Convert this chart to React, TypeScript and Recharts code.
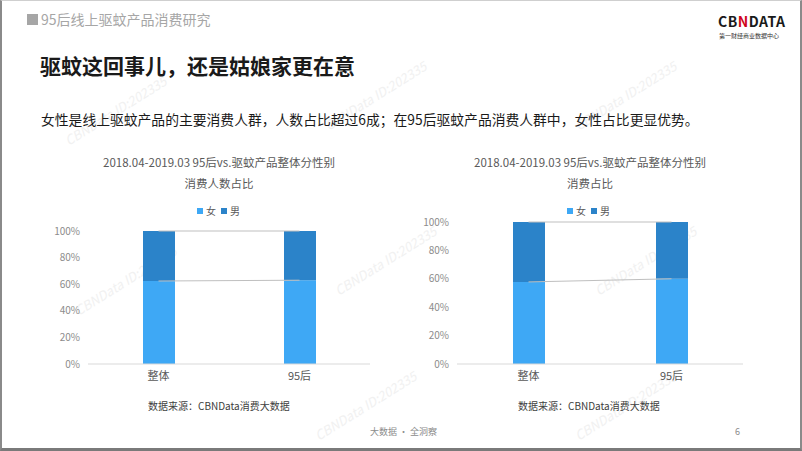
import { ComposedChart, Bar, Line, XAxis, YAxis } from "recharts";

// 分性别消费人数占比 / 消费占比 (%)
const categories = ["整体", "95后"];
const peopleFemale = [62.4, 63.0];
const peopleMale = [37.6, 37.0];
const spendFemale = [57.8, 60.0];
const spendMale = [42.2, 40.0];
const yTicks = [0, 20, 40, 60, 80, 100];

const FEMALE = "#3ea8f5";
const MALE = "#2b83c9";
const FONT = "'Microsoft YaHei', 'Noto Sans CJK SC', sans-serif";

const build = (female: number[], male: number[]) =>
  categories.map((name, i) => ({
    name,
    female: female[i],
    male: male[i],
    femaleTop: female[i],
    allTop: female[i] + male[i],
  }));

const peopleData = build(peopleFemale, peopleMale);
const spendData = build(spendFemale, spendMale);

const tick = { fill: "#8c8c8c", fontSize: 10, fontFamily: FONT };

function StackChart({ data, width, height, top, right, yWidth }: any) {
  return (
    <ComposedChart
      width={width}
      height={height}
      data={data}
      margin={{ top, right, bottom: 7, left: 0 }}
    >
      <XAxis
        dataKey="name"
        tick={{ ...tick, fill: "#595959", fontSize: 11 }}
        tickLine={false}
        axisLine={{ stroke: "#d9d9d9" }}
        height={20}
      />
      <YAxis
        domain={[0, 100]}
        ticks={yTicks}
        tickFormatter={(v: number) => `${v}%`}
        tick={tick}
        tickLine={false}
        axisLine={false}
        width={yWidth}
      />
      <Line dataKey="femaleTop" stroke="#bfbfbf" strokeWidth={1} dot={false} activeDot={false} isAnimationActive={false} />
      <Line dataKey="allTop" stroke="#bfbfbf" strokeWidth={1} dot={false} activeDot={false} isAnimationActive={false} />
      <Bar dataKey="female" stackId="a" fill={FEMALE} barSize={32} isAnimationActive={false} />
      <Bar dataKey="male" stackId="a" fill={MALE} barSize={32} isAnimationActive={false} />
    </ComposedChart>
  );
}

function LegendBox({ cx, y }: { cx: number; y: number }) {
  const item = (c: string, t: string) => (
    <span style={{ display: "inline-flex", alignItems: "center", marginRight: 5 }}>
      <span style={{ width: 6, height: 6, background: c, display: "inline-block", marginRight: 3 }} />
      {t}
    </span>
  );
  return (
    <div
      style={{
        position: "absolute",
        left: cx - 40,
        top: y,
        width: 80,
        textAlign: "center",
        fontSize: 10,
        color: "#595959",
        lineHeight: "12px",
      }}
    >
      {item(FEMALE, "女")}
      {item(MALE, "男")}
    </div>
  );
}

const abs = (left: number, top: number, extra: any = {}) => ({
  position: "absolute" as const,
  left,
  top,
  whiteSpace: "nowrap" as const,
  ...extra,
});

const marks = [
  [110, 110], [370, 95], [620, 95],
  [120, 280], [380, 260], [640, 260],
  [360, 405], [620, 405],
];

export default function App() {
  return (
    <div
      style={{
        position: "absolute",
        left: 0,
        top: 0,
        width: 802,
        height: 451,
        boxSizing: "border-box",
        borderLeft: "2px solid #8a8a8a",
        borderRight: "2px solid #8a8a8a",
        borderBottom: "3px solid #7a7a7a",
        borderTop: "1px solid #cfcfcf",
        background: "#fff",
        fontFamily: FONT,
        overflow: "hidden",
      }}
    >
      {marks.map(([x, y], i) => (
        <div
          key={i}
          style={abs(x - 55, y - 10, {
            transform: "rotate(-32deg)",
            color: "#f1f1f1",
            fontSize: 13,
            fontStyle: "italic",
          })}
        >
          CBNData ID:202335
        </div>
      ))}

      <div style={abs(25, 13, { width: 11, height: 11, background: "#a6a6a6" })} />
      <div style={abs(39, 9, { fontSize: 14, color: "#a6a6a6", lineHeight: "18px" })}>
        95后线上驱蚊产品消费研究
      </div>

      <div style={abs(716, 12, { fontSize: 14, fontWeight: 700, color: "#1a1a1a", letterSpacing: 0.5, lineHeight: "16px" })}>
        CB<span style={{ color: "#d0021b" }}>N</span>DATA
      </div>
      <div style={abs(717, 31, { fontSize: 6, color: "#333", lineHeight: "7px" })}>第一财经商业数据中心</div>

      <div style={abs(38, 50, { fontSize: 21, fontWeight: 700, color: "#1a1a1a", lineHeight: "28px" })}>
        驱蚊这回事儿，还是姑娘家更在意
      </div>

      <div style={abs(39, 108, { fontSize: 13.8, color: "#1a1a1a", lineHeight: "20px" })}>
        女性是线上驱蚊产品的主要消费人群，人数占比超过6成；在95后驱蚊产品消费人群中，女性占比更显优势。
      </div>

      <div style={abs(67, 151, { width: 300, textAlign: "center", fontSize: 11.5, color: "#595959", lineHeight: "21px" })}>
        2018.04-2019.03 95后vs.驱蚊产品整体分性别
        <br />
        消费人数占比
      </div>
      <LegendBox cx={219} y={203} />

      <div style={abs(438, 151, { width: 300, textAlign: "center", fontSize: 11.5, color: "#595959", lineHeight: "21px" })}>
        2018.04-2019.03 95后vs.驱蚊产品整体分性别
        <br />
        消费占比
      </div>
      <LegendBox cx={589} y={203} />

      <div style={abs(38, 215)}>
        <StackChart data={peopleData} width={340} height={175} top={15} right={10} yWidth={48} />
      </div>
      <div style={abs(408, 205)}>
        <StackChart data={spendData} width={345} height={185} top={16} right={12} yWidth={47} />
      </div>

      <div style={abs(146, 398, { fontSize: 10, color: "#404040", lineHeight: "14px" })}>数据来源：CBNData消费大数据</div>
      <div style={abs(516, 398, { fontSize: 10, color: "#404040", lineHeight: "14px" })}>数据来源：CBNData消费大数据</div>

      <div style={abs(368, 425, { fontSize: 9, color: "#8c8c8c", lineHeight: "12px" })}>大数据 · 全洞察</div>
      <div style={abs(733, 425, { fontSize: 9, color: "#8c8c8c", lineHeight: "12px" })}>6</div>
    </div>
  );
}
